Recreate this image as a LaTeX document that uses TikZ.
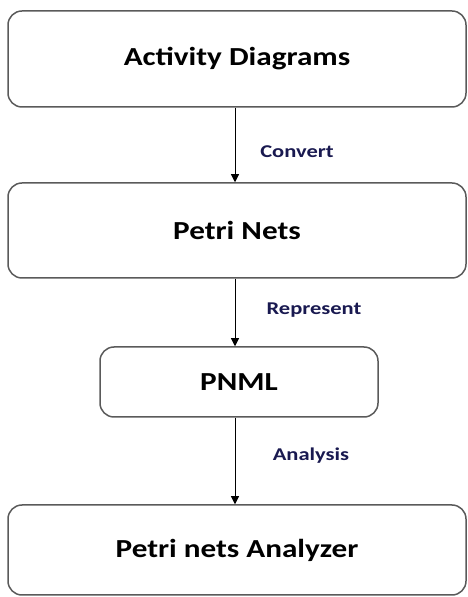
\documentclass[tikz,border=0pt]{standalone}
\usepackage{fontspec}
\usetikzlibrary{arrows.meta}
\newfontfamily\boxfont[FakeStretch=1.2]{Carlito}
\newfontfamily\lblfont[FakeStretch=1.25]{Carlito}
\definecolor{lblcol}{RGB}{25,25,80}
\definecolor{bordercol}{RGB}{90,90,90}
\tikzset{
  x=1pt,y=1pt,
  stepbox/.style={draw=bordercol, line width=1.5pt, rounded corners=14pt, rectangle,
    font=\boxfont\bfseries\fontsize{26}{30}\selectfont, text=black, inner sep=0pt},
  lbl/.style={font=\lblfont\bfseries\fontsize{18}{22}\selectfont, text=lblcol, inner sep=0pt},
  conn/.style={draw=black, line width=0.8pt, -{Triangle[width=8pt,length=8pt]}}
}
\begin{document}
\begin{tikzpicture}
\useasboundingbox (0,0) rectangle (467,597);
\node[stepbox, minimum width=458pt, minimum height=96pt] (b1) at (237,538) {Activity Diagrams};
\node[stepbox, minimum width=458pt, minimum height=95pt] (b2) at (237,366.5) {Petri Nets};
\node[stepbox, minimum width=278pt, minimum height=70pt] (b3) at (239,215) {PNML};
\node[stepbox, minimum width=458pt, minimum height=90pt] (b4) at (237,47) {Petri nets Analyzer};
\coordinate (ax1) at (235,0);
\draw[conn] (b1.south -| ax1) -- (b2.north -| ax1);
\draw[conn] (b2.south -| ax1) -- (b3.north -| ax1);
\draw[conn] (b3.south -| ax1) -- (b4.north -| ax1);
\node[lbl] (l1) at (297,445) {Convert};
\node[lbl] (l2) at (314,287) {Represent};
\node[lbl] (l3) at (311,141) {Analysis};
\end{tikzpicture}
\end{document}
